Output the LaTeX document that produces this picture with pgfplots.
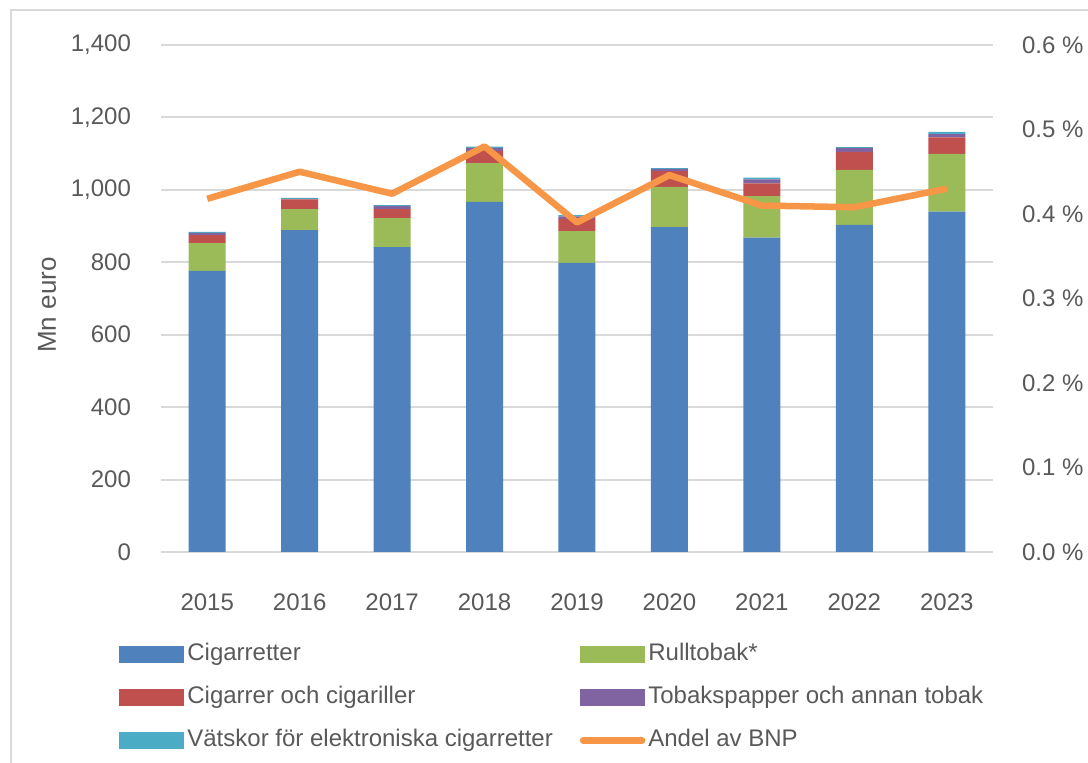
\documentclass[border=0pt]{standalone}
\usepackage{fontspec}
\setmainfont{Liberation Sans}
\usepackage{pgfplots}
\usepackage{pgfplotstable}
\pgfplotsset{compat=1.18}
\definecolor{cBlue}{HTML}{4F81BD}
\definecolor{cGreen}{HTML}{9BBB59}
\definecolor{cRed}{HTML}{C0504D}
\definecolor{cPurple}{HTML}{8064A2}
\definecolor{cTeal}{HTML}{4BACC6}
\definecolor{cOrange}{HTML}{F79646}
\definecolor{textgray}{HTML}{595959}
\definecolor{gridgray}{HTML}{D9D9D9}

\pgfplotstableread{
x cig rull cigarrer tobak vatsk bnp
0 776 77 22 6 3 0.418
1 889 58 27 1 3 0.450
2 842 80 25 9 2 0.424
3 967 107 33 9 3 0.480
4 798 88 34 7 3 0.390
5 897 111 44 6 2 0.446
6 868 115 35 11 5 0.410
7 903 152 50 11 2 0.408
8 940 159 46 9 6 0.430
}\datatable

\begin{document}
\begin{tikzpicture}[x=1pt,y=1pt]
\path[use as bounding box] (-80.5,-105.5) rectangle (463.5,276);
\draw[color=gridgray, line width=0.75pt] (-75,-105.5) -- (-75,271) -- (463.5,271);
\begin{axis}[
  at={(0,0)}, anchor=south west,
  scale only axis, width=416pt, height=253.5pt,
  xmin=-0.5, xmax=8.5, ymin=0, ymax=1400,
  ybar stacked, bar width=18.5pt,
  xtick={0,1,2,3,4,5,6,7,8},
  xticklabels={2015,2016,2017,2018,2019,2020,2021,2022,2023},
  ytick={0,200,400,600,800,1000,1200,1400},
  axis line style={draw=none},
  major tick length=0pt,
  ymajorgrids, grid style={color=gridgray, line width=1pt},
  tick label style={color=textgray, font=\fontsize{12}{14}\selectfont},
  /pgf/number format/assume math mode=true,
  /pgf/number format/1000 sep={,},
  yticklabel style={xshift=-11.5pt},
  xticklabel style={yshift=-17.5pt},
  ylabel={Mn euro},
  ylabel style={at={(axis description cs:-0.137,0.487)}, anchor=center, color=textgray, font=\fontsize{13}{15}\selectfont},
  legend columns=2,
  legend cell align=left,
  legend style={
    at={(axis description cs:0,0)}, anchor=north west,
    xshift=-21pt, yshift=-44pt,
    draw=none, fill=none, inner sep=0pt,
    font=\fontsize{12}{14}\selectfont, text=textgray,
    row sep=7pt,
    nodes={inner sep=1.5pt, text height=8.8pt, text depth=2.6pt},
    /tikz/every even column/.append style={column sep=12pt},
  },
  area legend,
  legend image code/.code={\fill[#1] (0pt,-4.25pt) rectangle (32.5pt,4.25pt);},
]
\addplot[fill=cBlue, draw=none] table[x=x, y=cig] {\datatable};
\addlegendentry{Cigarretter}
\addplot[fill=cGreen, draw=none] table[x=x, y=rull] {\datatable};
\addlegendentry{Rulltobak*}
\addplot[fill=cRed, draw=none] table[x=x, y=cigarrer] {\datatable};
\addlegendentry{Cigarrer och cigariller}
\addplot[fill=cPurple, draw=none] table[x=x, y=tobak] {\datatable};
\addlegendentry{Tobakspapper och annan tobak}
\addplot[fill=cTeal, draw=none] table[x=x, y=vatsk] {\datatable};
\addlegendentry{Vätskor för elektroniska cigarretter}
\addlegendimage{legend image code/.code={\draw[color=cOrange, line width=3.25pt, line cap=round] (1.5pt,0pt) -- (31pt,0pt);}}
\addlegendentry{Andel av BNP}
\end{axis}
\begin{axis}[
  at={(0,0)}, anchor=south west,
  scale only axis, width=416pt, height=253.5pt,
  xmin=-0.5, xmax=8.5, ymin=0, ymax=0.6,
  axis y line*=right, hide x axis,
  axis line style={draw=none},
  major tick length=0pt,
  ytick={0,0.1,0.2,0.3,0.4,0.5,0.6},
  yticklabel={\pgfmathprintnumber[fixed,fixed zerofill,precision=1]{\tick}\ \%},
  tick label style={color=textgray, font=\fontsize{12}{14}\selectfont},
  /pgf/number format/assume math mode=true,
  yticklabel style={xshift=11pt},
]
\addplot[color=cOrange, line width=3.25pt, line join=round, mark=none] table[x=x, y=bnp] {\datatable};
\end{axis}
\end{tikzpicture}
\end{document}
